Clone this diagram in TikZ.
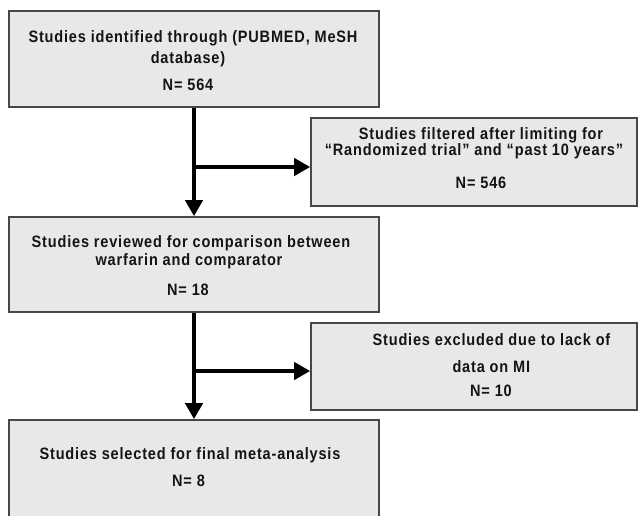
\documentclass[tikz,border=0pt]{standalone}
\usepackage{fontspec}
\setmainfont{Liberation Sans}[FakeStretch=0.88, LetterSpace=5]
\usetikzlibrary{arrows.meta}
\begin{document}
\begin{tikzpicture}[x=1pt,y=-1pt,
  box/.style={draw=black!72, line width=1.6pt, fill=gray!18, rectangle, inner sep=0pt},
  ln/.style={font=\fontsize{16.5}{19}\selectfont\bfseries, text=black!92, inner sep=0pt, anchor=base},
  flow/.style={line width=4.2pt, -{Triangle[length=16pt,width=17pt]}},
]
\useasboundingbox (0,0) rectangle (638,515);
% boxes
\node[box, minimum width=370pt, minimum height=96pt] (b1) at (194,59) {};
\node[box, minimum width=326pt, minimum height=88pt] (b2) at (474,162) {};
\node[box, minimum width=370pt, minimum height=95pt] (b3) at (194,264.5) {};
\node[box, minimum width=326pt, minimum height=87pt] (b4) at (474,366.5) {};
\node[box, minimum width=370pt, minimum height=120pt] (b5) at (194,480) {};
% texts
\node[ln] (t1a) at (193,42.5) {Studies identified through (PUBMED, MeSH};
\node[ln] (t1b) at (188,63) {database)};
\node[ln] (t1c) at (188,90.5) {N= 564};
\node[ln] (t2a) at (481,139) {Studies filtered after limiting for};
\node[ln] (t2b) at (474,155.5) {“Randomized trial” and “past 10 years”};
\node[ln] (t2c) at (481,188) {N= 546};
\node[ln] (t3a) at (191,247.3) {Studies reviewed for comparison between};
\node[ln] (t3b) at (189,265.3) {warfarin and comparator};
\node[ln] (t3c) at (188,295.3) {N= 18};
\node[ln] (t4a) at (491.5,345.7) {Studies excluded due to lack of};
\node[ln] (t4b) at (491.3,372.3) {data on MI};
\node[ln] (t4c) at (491,396.7) {N= 10};
\node[ln] (t5a) at (190,459.3) {Studies selected for final meta-analysis};
\node[ln] (t5b) at (188.5,486.5) {N= 8};
% connectors
\coordinate (j1) at (194,167);
\coordinate (j2) at (194,371);
\draw[flow] (b1.south) -- (b3.north);
\draw[flow] (j1) -- (j1 -| b2.west);
\draw[flow] (b3.south) -- (b5.north);
\draw[flow] (j2) -- (j2 -| b4.west);
\end{tikzpicture}
\end{document}
